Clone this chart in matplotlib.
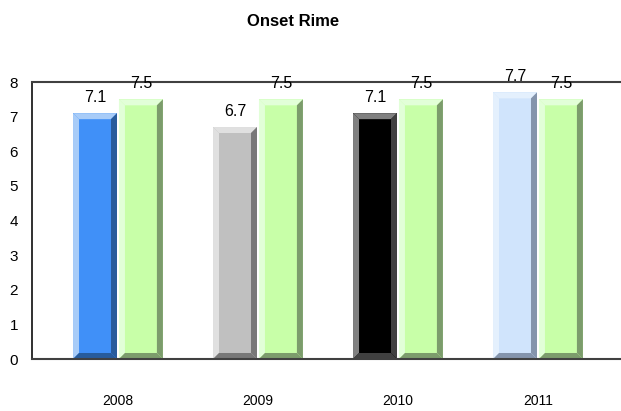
import matplotlib
matplotlib.use("Agg")
import matplotlib.pyplot as plt
from matplotlib.patches import Polygon

years = ["2008", "2009", "2010", "2011"]
series_a = [7.1, 6.7, 7.1, 7.7]
series_b = [7.5, 7.5, 7.5, 7.5]
yticks = [0, 1, 2, 3, 4, 5, 6, 7, 8]

# colours per bar: (face, light bevel, dark bevel)
colors_a = [("#4090F8", "#A8CCF8", "#285C9C"),
            ("#C0C0C0", "#E0E0E0", "#787878"),
            ("#000000", "#808080", "#404040"),
            ("#D0E4FC", "#E4F0FD", "#8494AC")]
colors_b = [("#C8FFA8", "#E2FFD8", "#7C9C6C")] * 4

fig = plt.figure(figsize=(6.21, 4.11), dpi=100)
ax = fig.add_axes([32 / 621, 1 - 359 / 411, 1 - 32 / 621, (359 - 82) / 411])

W = 0.314
off = 0.164
bx = 6 / 140.0
by = 6 / 34.6


def bevel_bar(x, h, cols):
    face, light, dark = cols
    bars = ax.bar([x], [h], width=W, color=face, linewidth=0, zorder=2)
    r = bars[0]
    x0, x1 = r.get_x(), r.get_x() + r.get_width()
    y0, y1 = 0, r.get_height()
    ax.add_patch(Polygon([(x0, y0), (x0 + bx, y0 + by), (x0 + bx, y1 - by), (x0, y1)],
                         closed=True, color=light, lw=0, zorder=3))
    ax.add_patch(Polygon([(x0, y1), (x0 + bx, y1 - by), (x1 - bx, y1 - by), (x1, y1)],
                         closed=True, color=light, lw=0, zorder=3))
    ax.add_patch(Polygon([(x1, y1), (x1 - bx, y1 - by), (x1 - bx, y0 + by), (x1, y0)],
                         closed=True, color=dark, lw=0, zorder=3))
    ax.add_patch(Polygon([(x0, y0), (x0 + bx, y0 + by), (x1 - bx, y0 + by), (x1, y0)],
                         closed=True, color=dark, lw=0, zorder=3))
    ax.text(x, h + 0.24, f"{h:.1f}", ha="center", va="bottom", fontsize=11.5,
            family="Liberation Sans", color="#000000", zorder=5)


for i in range(len(years)):
    bevel_bar(i - off, series_a[i], colors_a[i])
    bevel_bar(i + off, series_b[i], colors_b[i])

ax.set_xlim(-0.614, 3.593)
ax.set_ylim(0, 8)
ax.set_yticks(yticks)
ax.set_yticklabels([str(t) for t in yticks], family="Liberation Sans", fontsize=11)
ax.set_xticks(range(len(years)))
ax.set_xticklabels(years, family="Liberation Sans", fontsize=10)
ax.tick_params(axis="y", length=0, pad=10)
ax.tick_params(axis="x", length=0, pad=25)
ax.spines["right"].set_visible(False)
ax.spines["left"].set_color("#202020")
ax.spines["left"].set_linewidth(1.3)
ax.spines["top"].set_color("#404040")
ax.spines["top"].set_linewidth(1.5)
ax.spines["bottom"].set_color("#404040")
ax.spines["bottom"].set_linewidth(1.5)
for s in ax.spines.values():
    s.set_zorder(4)

fig.text(293 / 621, 1 - 21 / 411, "Onset Rime", ha="center", va="center",
         fontsize=12, fontweight="bold", family=["Liberation Sans Narrow", "Liberation Sans"])

fig.savefig("out.png", dpi=100)
